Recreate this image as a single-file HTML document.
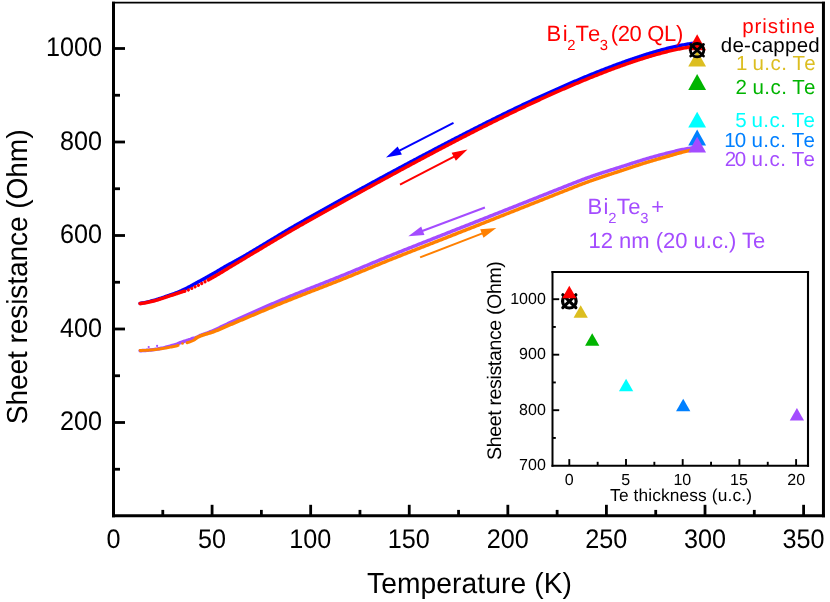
<!DOCTYPE html>
<html><head><meta charset="utf-8"><title>Sheet resistance vs temperature</title>
<style>
html,body{margin:0;padding:0;background:#fff;}
body{width:830px;height:602px;overflow:hidden;}
#w{width:830px;height:602px;will-change:transform;}
svg{display:block;}
svg text{font-family:"Liberation Sans",sans-serif;white-space:pre;text-rendering:geometricPrecision;}
</style></head><body>
<div id="w"><svg width="830" height="602" viewBox="0 0 830 602">
<rect width="830" height="602" fill="#fff"/>
<path d="M140.12,303.51 L141.24,303.31 L142.35,303.09 L143.47,302.86 L144.59,302.63 L145.71,302.38 L146.83,302.13 L147.95,301.87 L149.06,301.60 L150.18,301.33 L151.30,301.05 L152.42,300.76 L153.54,300.46 L154.66,300.15 L155.77,299.83 L156.89,299.49 L158.01,299.15 L159.13,298.79 L160.25,298.43 L161.36,298.06 L162.48,297.68 L163.60,297.30 L164.72,296.91 L165.84,296.52 L166.96,296.12 L168.07,295.74 L169.19,295.35 L170.31,294.97 L171.43,294.59 L172.55,294.19 L173.67,293.79 L174.78,293.37 L175.90,292.95 L177.02,292.51 L178.14,292.06 L179.26,291.61 L180.37,291.17 L181.49,290.70 L182.61,290.20 L183.73,289.68 L184.85,289.13 L185.97,288.56 L187.08,287.97 L188.20,287.38 L189.32,286.77 L190.44,286.17 L191.56,285.56 L192.68,284.95 L193.79,284.34 L194.91,283.73 L196.03,283.12 L197.15,282.51 L198.27,281.90 L199.38,281.29 L200.50,280.67 L201.62,280.06 L202.74,279.45 L203.86,278.84 L204.98,278.23 L206.09,277.61 L207.21,276.99 L208.33,276.37 L209.45,275.74 L210.57,275.11 L211.69,274.48 L212.80,273.84 L213.92,273.21 L215.04,272.57 L216.16,271.93 L217.28,271.27 L218.39,270.60 L219.51,269.93 L220.63,269.25 L221.75,268.59 L222.87,267.93 L223.99,267.28 L225.10,266.64 L226.22,266.01 L227.34,265.39 L228.46,264.77 L229.58,264.16 L230.70,263.56 L231.81,262.96 L232.93,262.35 L234.05,261.73 L235.17,261.10 L236.29,260.47 L237.40,259.84 L238.52,259.21 L239.64,258.58 L240.76,257.95 L241.88,257.31 L243.00,256.68 L244.11,256.04 L245.23,255.40 L246.35,254.75 L247.47,254.10 L248.59,253.45 L249.71,252.78 L250.82,252.12 L251.94,251.45 L253.06,250.78 L254.18,250.11 L255.30,249.44 L256.41,248.77 L257.53,248.10 L258.65,247.43 L259.77,246.76 L260.89,246.09 L262.01,245.42 L263.12,244.74 L264.24,244.07 L265.36,243.39 L266.48,242.72 L267.60,242.04 L268.72,241.37 L269.83,240.69 L270.95,240.01 L272.07,239.34 L273.19,238.66 L274.31,237.98 L275.42,237.31 L276.54,236.63 L277.66,235.96 L278.78,235.28 L279.90,234.61 L281.02,233.94 L282.13,233.27 L283.25,232.60 L284.37,231.93 L285.49,231.26 L286.61,230.60 L287.73,229.94 L288.84,229.28 L289.96,228.62 L291.08,227.96 L292.20,227.31 L293.32,226.66 L294.43,226.01 L295.55,225.36 L296.67,224.72 L297.79,224.08 L298.91,223.44 L300.03,222.80 L301.14,222.17 L302.26,221.54 L303.38,220.91 L304.50,220.28 L305.62,219.65 L306.74,219.01 L307.85,218.38 L308.97,217.75 L310.09,217.12 L311.21,216.49 L312.33,215.86 L313.44,215.23 L314.56,214.61 L315.68,213.98 L316.80,213.35 L317.92,212.72 L319.04,212.09 L320.15,211.47 L321.27,210.84 L322.39,210.21 L323.51,209.59 L324.63,208.96 L325.75,208.33 L326.86,207.71 L327.98,207.08 L329.10,206.46 L330.22,205.84 L331.34,205.21 L332.45,204.59 L333.57,203.96 L334.69,203.34 L335.81,202.72 L336.93,202.10 L338.05,201.47 L339.16,200.85 L340.28,200.23 L341.40,199.61 L342.52,198.99 L343.64,198.37 L344.76,197.75 L345.87,197.13 L346.99,196.51 L348.11,195.89 L349.23,195.28 L350.35,194.66 L351.46,194.04 L352.58,193.42 L353.70,192.81 L354.82,192.19 L355.94,191.57 L357.06,190.96 L358.17,190.34 L359.29,189.73 L360.41,189.11 L361.53,188.50 L362.65,187.88 L363.77,187.27 L364.88,186.66 L366.00,186.05 L367.12,185.43 L368.24,184.82 L369.36,184.21 L370.47,183.60 L371.59,182.99 L372.71,182.38 L373.83,181.77 L374.95,181.17 L376.07,180.56 L377.18,179.95 L378.30,179.34 L379.42,178.74 L380.54,178.13 L381.66,177.52 L382.78,176.92 L383.89,176.31 L385.01,175.71 L386.13,175.10 L387.25,174.50 L388.37,173.90 L389.48,173.29 L390.60,172.69 L391.72,172.09 L392.84,171.49 L393.96,170.89 L395.08,170.29 L396.19,169.69 L397.31,169.09 L398.43,168.49 L399.55,167.89 L400.67,167.29 L401.79,166.69 L402.90,166.09 L404.02,165.49 L405.14,164.90 L406.26,164.30 L407.38,163.70 L408.49,163.11 L409.61,162.51 L410.73,161.92 L411.85,161.32 L412.97,160.73 L414.09,160.13 L415.20,159.54 L416.32,158.95 L417.44,158.35 L418.56,157.76 L419.68,157.17 L420.80,156.58 L421.91,155.98 L423.03,155.39 L424.15,154.80 L425.27,154.21 L426.39,153.62 L427.51,153.03 L428.62,152.44 L429.74,151.86 L430.86,151.27 L431.98,150.68 L433.10,150.09 L434.21,149.50 L435.33,148.92 L436.45,148.33 L437.57,147.74 L438.69,147.16 L439.81,146.57 L440.92,145.99 L442.04,145.41 L443.16,144.82 L444.28,144.24 L445.40,143.65 L446.52,143.07 L447.63,142.49 L448.75,141.91 L449.87,141.33 L450.99,140.74 L452.11,140.16 L453.22,139.58 L454.34,139.00 L455.46,138.42 L456.58,137.85 L457.70,137.27 L458.82,136.69 L459.93,136.11 L461.05,135.53 L462.17,134.96 L463.29,134.38 L464.41,133.81 L465.53,133.23 L466.64,132.66 L467.76,132.08 L468.88,131.51 L470.00,130.94 L471.12,130.37 L472.23,129.80 L473.35,129.23 L474.47,128.66 L475.59,128.09 L476.71,127.52 L477.83,126.95 L478.94,126.39 L480.06,125.82 L481.18,125.26 L482.30,124.69 L483.42,124.13 L484.54,123.57 L485.65,123.00 L486.77,122.44 L487.89,121.88 L489.01,121.32 L490.13,120.76 L491.24,120.20 L492.36,119.65 L493.48,119.09 L494.60,118.54 L495.72,117.98 L496.84,117.43 L497.95,116.87 L499.07,116.32 L500.19,115.77 L501.31,115.22 L502.43,114.67 L503.55,114.12 L504.66,113.57 L505.78,113.03 L506.90,112.48 L508.02,111.94 L509.14,111.39 L510.25,110.85 L511.37,110.31 L512.49,109.77 L513.61,109.23 L514.73,108.69 L515.85,108.15 L516.96,107.61 L518.08,107.08 L519.20,106.54 L520.32,106.01 L521.44,105.47 L522.56,104.94 L523.67,104.41 L524.79,103.88 L525.91,103.35 L527.03,102.82 L528.15,102.30 L529.26,101.77 L530.38,101.25 L531.50,100.72 L532.62,100.20 L533.74,99.68 L534.86,99.16 L535.97,98.64 L537.09,98.12 L538.21,97.60 L539.33,97.09 L540.45,96.57 L541.57,96.06 L542.68,95.55 L543.80,95.04 L544.92,94.53 L546.04,94.02 L547.16,93.51 L548.27,93.00 L549.39,92.50 L550.51,91.99 L551.63,91.49 L552.75,90.99 L553.87,90.49 L554.98,89.99 L556.10,89.49 L557.22,88.99 L558.34,88.50 L559.46,88.00 L560.58,87.51 L561.69,87.02 L562.81,86.52 L563.93,86.03 L565.05,85.55 L566.17,85.06 L567.28,84.57 L568.40,84.09 L569.52,83.61 L570.64,83.12 L571.76,82.64 L572.88,82.16 L573.99,81.69 L575.11,81.21 L576.23,80.74 L577.35,80.26 L578.47,79.79 L579.59,79.32 L580.70,78.85 L581.82,78.38 L582.94,77.92 L584.06,77.45 L585.18,76.99 L586.29,76.52 L587.41,76.06 L588.53,75.60 L589.65,75.15 L590.77,74.69 L591.89,74.24 L593.00,73.78 L594.12,73.33 L595.24,72.88 L596.36,72.44 L597.48,71.99 L598.60,71.54 L599.71,71.10 L600.83,70.66 L601.95,70.22 L603.07,69.78 L604.19,69.35 L605.30,68.91 L606.42,68.48 L607.54,68.05 L608.66,67.62 L609.78,67.19 L610.90,66.77 L612.01,66.34 L613.13,65.92 L614.25,65.50 L615.37,65.08 L616.49,64.67 L617.61,64.26 L618.72,63.84 L619.84,63.44 L620.96,63.03 L622.08,62.62 L623.20,62.22 L624.31,61.82 L625.43,61.42 L626.55,61.02 L627.67,60.63 L628.79,60.23 L629.91,59.84 L631.02,59.46 L632.14,59.07 L633.26,58.69 L634.38,58.30 L635.50,57.93 L636.62,57.55 L637.73,57.18 L638.85,56.80 L639.97,56.44 L641.09,56.07 L642.21,55.71 L643.32,55.35 L644.44,54.99 L645.56,54.64 L646.68,54.29 L647.80,53.94 L648.92,53.59 L650.03,53.25 L651.15,52.91 L652.27,52.58 L653.39,52.25 L654.51,51.92 L655.63,51.59 L656.74,51.27 L657.86,50.95 L658.98,50.64 L660.10,50.33 L661.22,50.02 L662.33,49.72 L663.45,49.43 L664.57,49.13 L665.69,48.84 L666.81,48.56 L667.93,48.28 L669.04,48.00 L670.16,47.73 L671.28,47.46 L672.40,47.20 L673.52,46.94 L674.64,46.69 L675.75,46.44 L676.87,46.20 L677.99,45.96 L679.11,45.73 L680.23,45.51 L681.34,45.29 L682.46,45.07 L683.58,44.86 L684.70,44.66 L685.82,44.46 L686.94,44.27 L688.05,44.09 L689.17,43.91 L690.29,43.74 L691.41,43.57 L692.53,43.41 L693.65,43.26 L694.76,43.12 L695.88,42.98 L697.00,42.85" fill="none" stroke="#0000ff" stroke-width="3.5" stroke-linecap="round" stroke-linejoin="round"/>
<path d="M140.12,303.57 L141.24,303.44 L142.35,303.28 L143.47,303.12 L144.59,302.94 L145.71,302.74 L146.83,302.54 L147.95,302.32 L149.06,302.08 L150.18,301.83 L151.30,301.57 L152.42,301.30 L153.54,301.01 L154.66,300.71 L155.77,300.40 L156.89,300.07 L158.01,299.74 L159.13,299.39 L160.25,299.03 L161.36,298.67 L162.48,298.30 L163.60,297.92 L164.72,297.54 L165.84,297.16 L166.96,296.78 L168.07,296.41 L169.19,296.04 L170.31,295.68 L171.43,295.32 L172.55,294.96 L173.67,294.60 L174.78,294.24 L175.90,293.88 L177.02,293.51 L178.14,293.13 L179.26,292.75 L180.37,292.40 L181.49,292.05 L182.61,291.70 L183.73,291.35" fill="none" stroke="#ff0000" stroke-width="3.5" stroke-linecap="round" stroke-linejoin="round"/>
<path d="M184.85,291.19 L185.97,290.81 L187.08,290.41 L188.20,289.98 L189.32,289.51 L190.44,289.00 L191.56,288.48 L192.68,287.96 L193.79,287.42 L194.91,286.89 L196.03,286.35 L197.15,285.80 L198.27,285.25 L199.38,284.69 L200.50,284.13 L201.62,283.56 L202.74,282.99 L203.86,282.41 L204.98,281.83 L206.09,281.24" fill="none" stroke="#ff0000" stroke-width="3.3" stroke-dasharray="0.01 3.7" stroke-linecap="round" stroke-linejoin="round"/>
<path d="M208.33,279.84 L209.45,279.23 L210.57,278.62 L211.69,278.01 L212.80,277.39 L213.92,276.77 L215.04,276.14 L216.16,275.51 L217.28,274.86 L218.39,274.20 L219.51,273.53 L220.63,272.85 L221.75,272.17 L222.87,271.48 L223.99,270.78 L225.10,270.09 L226.22,269.40 L227.34,268.71 L228.46,268.02 L229.58,267.35 L230.70,266.68 L231.81,266.00 L232.93,265.33 L234.05,264.66 L235.17,263.99 L236.29,263.32 L237.40,262.65 L238.52,261.98 L239.64,261.31 L240.76,260.64 L241.88,259.97 L243.00,259.30 L244.11,258.63 L245.23,257.96 L246.35,257.29 L247.47,256.62 L248.59,255.95 L249.71,255.28 L250.82,254.62 L251.94,253.95 L253.06,253.28 L254.18,252.61 L255.30,251.95 L256.41,251.28 L257.53,250.62 L258.65,249.95 L259.77,249.28 L260.89,248.62 L262.01,247.95 L263.12,247.29 L264.24,246.62 L265.36,245.95 L266.48,245.29 L267.60,244.62 L268.72,243.95 L269.83,243.28 L270.95,242.61 L272.07,241.95 L273.19,241.28 L274.31,240.61 L275.42,239.94 L276.54,239.28 L277.66,238.61 L278.78,237.95 L279.90,237.28 L281.02,236.62 L282.13,235.96 L283.25,235.30 L284.37,234.64 L285.49,233.98 L286.61,233.33 L287.73,232.67 L288.84,232.02 L289.96,231.37 L291.08,230.72 L292.20,230.07 L293.32,229.43 L294.43,228.78 L295.55,228.14 L296.67,227.51 L297.79,226.87 L298.91,226.24 L300.03,225.60 L301.14,224.98 L302.26,224.35 L303.38,223.72 L304.50,223.09 L305.62,222.46 L306.74,221.83 L307.85,221.20 L308.97,220.58 L310.09,219.95 L311.21,219.32 L312.33,218.70 L313.44,218.07 L314.56,217.44 L315.68,216.82 L316.80,216.19 L317.92,215.57 L319.04,214.94 L320.15,214.32 L321.27,213.69 L322.39,213.07 L323.51,212.44 L324.63,211.82 L325.75,211.20 L326.86,210.57 L327.98,209.95 L329.10,209.33 L330.22,208.71 L331.34,208.08 L332.45,207.46 L333.57,206.84 L334.69,206.22 L335.81,205.60 L336.93,204.98 L338.05,204.36 L339.16,203.74 L340.28,203.12 L341.40,202.50 L342.52,201.88 L343.64,201.26 L344.76,200.64 L345.87,200.02 L346.99,199.41 L348.11,198.79 L349.23,198.17 L350.35,197.55 L351.46,196.94 L352.58,196.32 L353.70,195.70 L354.82,195.09 L355.94,194.47 L357.06,193.86 L358.17,193.24 L359.29,192.63 L360.41,192.01 L361.53,191.40 L362.65,190.78 L363.77,190.17 L364.88,189.56 L366.00,188.94 L367.12,188.33 L368.24,187.72 L369.36,187.10 L370.47,186.49 L371.59,185.88 L372.71,185.27 L373.83,184.66 L374.95,184.05 L376.07,183.44 L377.18,182.83 L378.30,182.22 L379.42,181.61 L380.54,181.00 L381.66,180.39 L382.78,179.78 L383.89,179.17 L385.01,178.56 L386.13,177.95 L387.25,177.35 L388.37,176.74 L389.48,176.13 L390.60,175.53 L391.72,174.92 L392.84,174.31 L393.96,173.71 L395.08,173.10 L396.19,172.50 L397.31,171.89 L398.43,171.29 L399.55,170.68 L400.67,170.08 L401.79,169.48 L402.90,168.87 L404.02,168.27 L405.14,167.67 L406.26,167.07 L407.38,166.47 L408.49,165.86 L409.61,165.26 L410.73,164.66 L411.85,164.06 L412.97,163.46 L414.09,162.86 L415.20,162.27 L416.32,161.67 L417.44,161.07 L418.56,160.47 L419.68,159.87 L420.80,159.28 L421.91,158.68 L423.03,158.09 L424.15,157.49 L425.27,156.90 L426.39,156.30 L427.51,155.71 L428.62,155.11 L429.74,154.52 L430.86,153.93 L431.98,153.34 L433.10,152.74 L434.21,152.15 L435.33,151.56 L436.45,150.97 L437.57,150.38 L438.69,149.79 L439.81,149.21 L440.92,148.62 L442.04,148.03 L443.16,147.44 L444.28,146.86 L445.40,146.27 L446.52,145.69 L447.63,145.10 L448.75,144.52 L449.87,143.93 L450.99,143.35 L452.11,142.77 L453.22,142.19 L454.34,141.61 L455.46,141.03 L456.58,140.45 L457.70,139.87 L458.82,139.29 L459.93,138.71 L461.05,138.13 L462.17,137.56 L463.29,136.98 L464.41,136.41 L465.53,135.83 L466.64,135.26 L467.76,134.69 L468.88,134.11 L470.00,133.54 L471.12,132.97 L472.23,132.40 L473.35,131.83 L474.47,131.26 L475.59,130.69 L476.71,130.13 L477.83,129.56 L478.94,129.00 L480.06,128.43 L481.18,127.87 L482.30,127.30 L483.42,126.74 L484.54,126.18 L485.65,125.62 L486.77,125.06 L487.89,124.50 L489.01,123.94 L490.13,123.38 L491.24,122.83 L492.36,122.27 L493.48,121.72 L494.60,121.16 L495.72,120.61 L496.84,120.06 L497.95,119.50 L499.07,118.95 L500.19,118.40 L501.31,117.86 L502.43,117.31 L503.55,116.76 L504.66,116.21 L505.78,115.67 L506.90,115.13 L508.02,114.58 L509.14,114.04 L510.25,113.50 L511.37,112.96 L512.49,112.42 L513.61,111.88 L514.73,111.34 L515.85,110.81 L516.96,110.27 L518.08,109.74 L519.20,109.20 L520.32,108.67 L521.44,108.14 L522.56,107.61 L523.67,107.08 L524.79,106.55 L525.91,106.03 L527.03,105.50 L528.15,104.98 L529.26,104.45 L530.38,103.93 L531.50,103.41 L532.62,102.89 L533.74,102.37 L534.86,101.85 L535.97,101.33 L537.09,100.82 L538.21,100.30 L539.33,99.79 L540.45,99.27 L541.57,98.76 L542.68,98.25 L543.80,97.74 L544.92,97.23 L546.04,96.73 L547.16,96.22 L548.27,95.72 L549.39,95.21 L550.51,94.71 L551.63,94.21 L552.75,93.71 L553.87,93.21 L554.98,92.71 L556.10,92.22 L557.22,91.72 L558.34,91.23 L559.46,90.74 L560.58,90.25 L561.69,89.76 L562.81,89.27 L563.93,88.78 L565.05,88.30 L566.17,87.81 L567.28,87.33 L568.40,86.85 L569.52,86.37 L570.64,85.89 L571.76,85.41 L572.88,84.93 L573.99,84.46 L575.11,83.98 L576.23,83.51 L577.35,83.04 L578.47,82.57 L579.59,82.10 L580.70,81.64 L581.82,81.17 L582.94,80.71 L584.06,80.25 L585.18,79.78 L586.29,79.33 L587.41,78.87 L588.53,78.41 L589.65,77.96 L590.77,77.50 L591.89,77.05 L593.00,76.60 L594.12,76.16 L595.24,75.71 L596.36,75.26 L597.48,74.82 L598.60,74.38 L599.71,73.94 L600.83,73.50 L601.95,73.06 L603.07,72.63 L604.19,72.20 L605.30,71.77 L606.42,71.34 L607.54,70.91 L608.66,70.48 L609.78,70.06 L610.90,69.64 L612.01,69.22 L613.13,68.80 L614.25,68.38 L615.37,67.97 L616.49,67.56 L617.61,67.15 L618.72,66.74 L619.84,66.33 L620.96,65.93 L622.08,65.53 L623.20,65.13 L624.31,64.73 L625.43,64.34 L626.55,63.95 L627.67,63.56 L628.79,63.17 L629.91,62.78 L631.02,62.40 L632.14,62.02 L633.26,61.64 L634.38,61.27 L635.50,60.89 L636.62,60.52 L637.73,60.16 L638.85,59.79 L639.97,59.43 L641.09,59.07 L642.21,58.71 L643.32,58.36 L644.44,58.01 L645.56,57.66 L646.68,57.32 L647.80,56.97 L648.92,56.64 L650.03,56.30 L651.15,55.97 L652.27,55.64 L653.39,55.31 L654.51,54.99 L655.63,54.67 L656.74,54.36 L657.86,54.05 L658.98,53.74 L660.10,53.44 L661.22,53.14 L662.33,52.84 L663.45,52.55 L664.57,52.26 L665.69,51.98 L666.81,51.70 L667.93,51.42 L669.04,51.15 L670.16,50.88 L671.28,50.62 L672.40,50.36 L673.52,50.11 L674.64,49.86 L675.75,49.62 L676.87,49.38 L677.99,49.15 L679.11,48.92 L680.23,48.69 L681.34,48.48 L682.46,48.26 L683.58,48.06 L684.70,47.86 L685.82,47.66 L686.94,47.47 L688.05,47.29 L689.17,47.11 L690.29,46.94 L691.41,46.77 L692.53,46.61 L693.65,46.46 L694.76,46.32 L695.88,46.18 L697.00,46.05" fill="none" stroke="#ff0000" stroke-width="3.5" stroke-linecap="round" stroke-linejoin="round"/>
<path d="M140.12,350.68 L141.24,350.65 L142.35,350.61 L143.47,350.56 L144.59,350.49 L145.71,350.42 L146.83,350.33 L147.95,350.24 L149.06,350.13 L150.18,350.02 L151.30,349.89 L152.42,349.76 L153.54,349.62 L154.66,349.47 L155.77,349.30 L156.89,349.13 L158.01,348.95 L159.13,348.76 L160.25,348.56 L161.36,348.34 L162.48,348.10 L163.60,347.85 L164.72,347.58 L165.84,347.30 L166.96,347.01 L168.07,346.72 L169.19,346.42 L170.31,346.11 L171.43,345.80 L172.55,345.48 L173.67,345.15 L174.78,344.81 L175.90,344.44 L177.02,344.04 L178.14,343.60 L179.26,343.15 L180.37,342.70 L181.49,342.27 L182.61,341.86 L183.73,341.49 L184.85,341.15 L185.97,340.80 L187.08,340.45 L188.20,340.09 L189.32,339.73 L190.44,339.36 L191.56,338.95 L192.68,338.48 L193.79,338.18 L194.91,338.20 L196.03,337.51 L197.15,337.04 L198.27,336.50 L199.38,335.97 L200.50,335.47 L201.62,335.01 L202.74,334.59 L203.86,334.20 L204.98,333.83 L206.09,333.45 L207.21,333.05 L208.33,332.63 L209.45,332.20 L210.57,331.74 L211.69,331.27 L212.80,330.79 L213.92,330.29 L215.04,329.78 L216.16,329.28 L217.28,328.77 L218.39,328.24 L219.51,327.72 L220.63,327.18 L221.75,326.65 L222.87,326.11 L223.99,325.57 L225.10,325.04 L226.22,324.51 L227.34,323.98 L228.46,323.46 L229.58,322.95 L230.70,322.45 L231.81,321.95 L232.93,321.45 L234.05,320.94 L235.17,320.44 L236.29,319.93 L237.40,319.43 L238.52,318.92 L239.64,318.42 L240.76,317.91 L241.88,317.41 L243.00,316.90 L244.11,316.40 L245.23,315.89 L246.35,315.39 L247.47,314.88 L248.59,314.38 L249.71,313.88 L250.82,313.37 L251.94,312.87 L253.06,312.37 L254.18,311.87 L255.30,311.37 L256.41,310.87 L257.53,310.37 L258.65,309.87 L259.77,309.37 L260.89,308.87 L262.01,308.38 L263.12,307.88 L264.24,307.39 L265.36,306.90 L266.48,306.41 L267.60,305.92 L268.72,305.43 L269.83,304.94 L270.95,304.46 L272.07,303.97 L273.19,303.49 L274.31,303.01 L275.42,302.53 L276.54,302.05 L277.66,301.57 L278.78,301.09 L279.90,300.62 L281.02,300.15 L282.13,299.68 L283.25,299.21 L284.37,298.74 L285.49,298.28 L286.61,297.81 L287.73,297.35 L288.84,296.89 L289.96,296.43 L291.08,295.97 L292.20,295.52 L293.32,295.06 L294.43,294.61 L295.55,294.16 L296.67,293.71 L297.79,293.25 L298.91,292.81 L300.03,292.36 L301.14,291.91 L302.26,291.46 L303.38,291.02 L304.50,290.57 L305.62,290.13 L306.74,289.68 L307.85,289.24 L308.97,288.80 L310.09,288.36 L311.21,287.91 L312.33,287.47 L313.44,287.03 L314.56,286.59 L315.68,286.15 L316.80,285.71 L317.92,285.27 L319.04,284.83 L320.15,284.39 L321.27,283.95 L322.39,283.51 L323.51,283.07 L324.63,282.62 L325.75,282.18 L326.86,281.74 L327.98,281.30 L329.10,280.85 L330.22,280.41 L331.34,279.97 L332.45,279.52 L333.57,279.08 L334.69,278.63 L335.81,278.18 L336.93,277.73 L338.05,277.28 L339.16,276.83 L340.28,276.38 L341.40,275.93 L342.52,275.47 L343.64,275.02 L344.76,274.56 L345.87,274.10 L346.99,273.64 L348.11,273.19 L349.23,272.73 L350.35,272.26 L351.46,271.80 L352.58,271.34 L353.70,270.88 L354.82,270.41 L355.94,269.95 L357.06,269.48 L358.17,269.02 L359.29,268.55 L360.41,268.09 L361.53,267.62 L362.65,267.15 L363.77,266.69 L364.88,266.22 L366.00,265.75 L367.12,265.29 L368.24,264.82 L369.36,264.35 L370.47,263.89 L371.59,263.42 L372.71,262.95 L373.83,262.49 L374.95,262.02 L376.07,261.56 L377.18,261.09 L378.30,260.63 L379.42,260.16 L380.54,259.70 L381.66,259.24 L382.78,258.77 L383.89,258.31 L385.01,257.85 L386.13,257.39 L387.25,256.93 L388.37,256.48 L389.48,256.02 L390.60,255.56 L391.72,255.11 L392.84,254.66 L393.96,254.20 L395.08,253.75 L396.19,253.30 L397.31,252.85 L398.43,252.41 L399.55,251.96 L400.67,251.52 L401.79,251.07 L402.90,250.63 L404.02,250.19 L405.14,249.74 L406.26,249.30 L407.38,248.86 L408.49,248.41 L409.61,247.97 L410.73,247.53 L411.85,247.08 L412.97,246.64 L414.09,246.20 L415.20,245.76 L416.32,245.31 L417.44,244.87 L418.56,244.43 L419.68,243.98 L420.80,243.54 L421.91,243.10 L423.03,242.66 L424.15,242.22 L425.27,241.77 L426.39,241.33 L427.51,240.89 L428.62,240.45 L429.74,240.01 L430.86,239.56 L431.98,239.12 L433.10,238.68 L434.21,238.24 L435.33,237.80 L436.45,237.36 L437.57,236.91 L438.69,236.47 L439.81,236.03 L440.92,235.59 L442.04,235.15 L443.16,234.71 L444.28,234.27 L445.40,233.83 L446.52,233.39 L447.63,232.94 L448.75,232.50 L449.87,232.06 L450.99,231.62 L452.11,231.18 L453.22,230.74 L454.34,230.30 L455.46,229.86 L456.58,229.42 L457.70,228.98 L458.82,228.54 L459.93,228.10 L461.05,227.66 L462.17,227.22 L463.29,226.78 L464.41,226.34 L465.53,225.90 L466.64,225.46 L467.76,225.02 L468.88,224.58 L470.00,224.14 L471.12,223.70 L472.23,223.26 L473.35,222.81 L474.47,222.37 L475.59,221.93 L476.71,221.49 L477.83,221.05 L478.94,220.61 L480.06,220.17 L481.18,219.73 L482.30,219.28 L483.42,218.84 L484.54,218.40 L485.65,217.96 L486.77,217.52 L487.89,217.08 L489.01,216.63 L490.13,216.19 L491.24,215.75 L492.36,215.31 L493.48,214.87 L494.60,214.42 L495.72,213.98 L496.84,213.54 L497.95,213.10 L499.07,212.65 L500.19,212.21 L501.31,211.77 L502.43,211.32 L503.55,210.88 L504.66,210.44 L505.78,210.00 L506.90,209.55 L508.02,209.11 L509.14,208.67 L510.25,208.22 L511.37,207.78 L512.49,207.34 L513.61,206.89 L514.73,206.45 L515.85,206.01 L516.96,205.56 L518.08,205.12 L519.20,204.67 L520.32,204.23 L521.44,203.79 L522.56,203.34 L523.67,202.90 L524.79,202.46 L525.91,202.01 L527.03,201.57 L528.15,201.12 L529.26,200.68 L530.38,200.24 L531.50,199.79 L532.62,199.35 L533.74,198.90 L534.86,198.46 L535.97,198.02 L537.09,197.57 L538.21,197.13 L539.33,196.69 L540.45,196.24 L541.57,195.80 L542.68,195.35 L543.80,194.91 L544.92,194.47 L546.04,194.02 L547.16,193.58 L548.27,193.14 L549.39,192.69 L550.51,192.25 L551.63,191.81 L552.75,191.36 L553.87,190.92 L554.98,190.48 L556.10,190.03 L557.22,189.59 L558.34,189.15 L559.46,188.71 L560.58,188.27 L561.69,187.82 L562.81,187.38 L563.93,186.94 L565.05,186.50 L566.17,186.06 L567.28,185.62 L568.40,185.18 L569.52,184.74 L570.64,184.30 L571.76,183.86 L572.88,183.42 L573.99,182.98 L575.11,182.54 L576.23,182.10 L577.35,181.66 L578.47,181.23 L579.59,180.79 L580.70,180.35 L581.82,179.92 L582.94,179.50 L584.06,179.08 L585.18,178.66 L586.29,178.25 L587.41,177.84 L588.53,177.44 L589.65,177.04 L590.77,176.65 L591.89,176.26 L593.00,175.87 L594.12,175.49 L595.24,175.11 L596.36,174.73 L597.48,174.36 L598.60,173.99 L599.71,173.62 L600.83,173.26 L601.95,172.89 L603.07,172.53 L604.19,172.17 L605.30,171.81 L606.42,171.46 L607.54,171.10 L608.66,170.75 L609.78,170.39 L610.90,170.04 L612.01,169.69 L613.13,169.34 L614.25,168.99 L615.37,168.64 L616.49,168.28 L617.61,167.93 L618.72,167.58 L619.84,167.23 L620.96,166.88 L622.08,166.52 L623.20,166.17 L624.31,165.81 L625.43,165.46 L626.55,165.10 L627.67,164.74 L628.79,164.38 L629.91,164.01 L631.02,163.65 L632.14,163.29 L633.26,162.93 L634.38,162.57 L635.50,162.21 L636.62,161.86 L637.73,161.50 L638.85,161.15 L639.97,160.80 L641.09,160.46 L642.21,160.11 L643.32,159.77 L644.44,159.43 L645.56,159.10 L646.68,158.76 L647.80,158.43 L648.92,158.10 L650.03,157.78 L651.15,157.45 L652.27,157.13 L653.39,156.82 L654.51,156.51 L655.63,156.20 L656.74,155.89 L657.86,155.59 L658.98,155.29 L660.10,154.99 L661.22,154.70 L662.33,154.41 L663.45,154.13 L664.57,153.85 L665.69,153.57 L666.81,153.28 L667.93,153.00 L669.04,152.72 L670.16,152.44 L671.28,152.16 L672.40,151.88 L673.52,151.61 L674.64,151.33 L675.75,151.07 L676.87,150.80 L677.99,150.55 L679.11,150.29 L680.23,150.05 L681.34,149.81 L682.46,149.58 L683.58,149.36 L684.70,149.14 L685.82,148.94 L686.94,148.74 L688.05,148.56 L689.17,148.39 L690.29,148.22 L691.41,148.07 L692.53,147.92 L693.65,147.78 L694.76,147.65 L695.88,147.53 L697.00,147.41" fill="none" stroke="#a44cff" stroke-width="3.5" stroke-linecap="round" stroke-linejoin="round"/>
<path d="M140.12,350.49 L141.24,350.48 L142.35,350.46 L143.47,350.42 L144.59,350.38 L145.71,350.33 L146.83,350.26 L147.95,350.19 L149.06,350.11 L150.18,350.02 L151.30,349.92 L152.42,349.82 L153.54,349.70 L154.66,349.58 L155.77,349.45 L156.89,349.32 L158.01,349.18 L159.13,349.03 L160.25,348.87 L161.36,348.71 L162.48,348.54 L163.60,348.36 L164.72,348.17 L165.84,347.98 L166.96,347.78 L168.07,347.59 L169.19,347.39 L170.31,347.19 L171.43,346.98 L172.55,346.77 L173.67,346.54 L174.78,346.29 L175.90,346.03 L177.02,345.74 L178.14,345.44" fill="none" stroke="#ff8000" stroke-width="2.9" stroke-linecap="round" stroke-linejoin="round"/>
<path d="M187.08,342.75 L188.20,342.39 L189.32,342.03 L190.44,341.66 L191.56,341.25 L192.68,340.78 L193.79,340.27 L194.91,339.57 L196.03,338.11" fill="none" stroke="#ff8000" stroke-width="2.9" stroke-linecap="round" stroke-linejoin="round"/>
<path d="M196.03,338.31 L197.15,337.54 L198.27,337.00 L199.38,336.48 L200.50,335.99 L201.62,335.55 L202.74,335.15 L203.86,334.78 L204.98,334.43 L206.09,334.09 L207.21,333.76 L208.33,333.43 L209.45,333.10 L210.57,332.76 L211.69,332.40 L212.80,332.02 L213.92,331.62 L215.04,331.19 L216.16,330.74 L217.28,330.28 L218.39,329.81 L219.51,329.34 L220.63,328.85 L221.75,328.36 L222.87,327.87 L223.99,327.37 L225.10,326.88 L226.22,326.39 L227.34,325.90 L228.46,325.42 L229.58,324.94 L230.70,324.47 L231.81,324.01 L232.93,323.54 L234.05,323.07 L235.17,322.60 L236.29,322.13 L237.40,321.66 L238.52,321.19 L239.64,320.71 L240.76,320.24 L241.88,319.77 L243.00,319.30 L244.11,318.82 L245.23,318.35 L246.35,317.88 L247.47,317.40 L248.59,316.93 L249.71,316.46 L250.82,315.98 L251.94,315.51 L253.06,315.04 L254.18,314.56 L255.30,314.09 L256.41,313.62 L257.53,313.15 L258.65,312.68 L259.77,312.20 L260.89,311.73 L262.01,311.26 L263.12,310.79 L264.24,310.32 L265.36,309.85 L266.48,309.39 L267.60,308.92 L268.72,308.45 L269.83,307.98 L270.95,307.52 L272.07,307.05 L273.19,306.59 L274.31,306.12 L275.42,305.66 L276.54,305.20 L277.66,304.74 L278.78,304.28 L279.90,303.82 L281.02,303.36 L282.13,302.90 L283.25,302.45 L284.37,302.00 L285.49,301.54 L286.61,301.09 L287.73,300.64 L288.84,300.19 L289.96,299.75 L291.08,299.30 L292.20,298.86 L293.32,298.41 L294.43,297.97 L295.55,297.53 L296.67,297.09 L297.79,296.65 L298.91,296.21 L300.03,295.77 L301.14,295.34 L302.26,294.90 L303.38,294.46 L304.50,294.03 L305.62,293.59 L306.74,293.16 L307.85,292.72 L308.97,292.29 L310.09,291.86 L311.21,291.42 L312.33,290.99 L313.44,290.56 L314.56,290.13 L315.68,289.69 L316.80,289.26 L317.92,288.83 L319.04,288.40 L320.15,287.96 L321.27,287.53 L322.39,287.10 L323.51,286.66 L324.63,286.23 L325.75,285.80 L326.86,285.36 L327.98,284.93 L329.10,284.49 L330.22,284.05 L331.34,283.61 L332.45,283.18 L333.57,282.74 L334.69,282.30 L335.81,281.86 L336.93,281.41 L338.05,280.97 L339.16,280.53 L340.28,280.08 L341.40,279.64 L342.52,279.19 L343.64,278.74 L344.76,278.29 L345.87,277.84 L346.99,277.39 L348.11,276.93 L349.23,276.48 L350.35,276.02 L351.46,275.57 L352.58,275.11 L353.70,274.66 L354.82,274.20 L355.94,273.74 L357.06,273.28 L358.17,272.83 L359.29,272.37 L360.41,271.91 L361.53,271.45 L362.65,270.99 L363.77,270.53 L364.88,270.07 L366.00,269.61 L367.12,269.15 L368.24,268.68 L369.36,268.22 L370.47,267.76 L371.59,267.30 L372.71,266.84 L373.83,266.38 L374.95,265.92 L376.07,265.47 L377.18,265.01 L378.30,264.55 L379.42,264.09 L380.54,263.63 L381.66,263.18 L382.78,262.72 L383.89,262.27 L385.01,261.81 L386.13,261.36 L387.25,260.91 L388.37,260.45 L389.48,260.00 L390.60,259.55 L391.72,259.10 L392.84,258.66 L393.96,258.21 L395.08,257.76 L396.19,257.32 L397.31,256.88 L398.43,256.44 L399.55,256.00 L400.67,255.56 L401.79,255.12 L402.90,254.68 L404.02,254.24 L405.14,253.80 L406.26,253.37 L407.38,252.93 L408.49,252.49 L409.61,252.05 L410.73,251.61 L411.85,251.17 L412.97,250.74 L414.09,250.30 L415.20,249.86 L416.32,249.42 L417.44,248.98 L418.56,248.54 L419.68,248.11 L420.80,247.67 L421.91,247.23 L423.03,246.79 L424.15,246.35 L425.27,245.91 L426.39,245.47 L427.51,245.04 L428.62,244.60 L429.74,244.16 L430.86,243.72 L431.98,243.28 L433.10,242.84 L434.21,242.40 L435.33,241.97 L436.45,241.53 L437.57,241.09 L438.69,240.65 L439.81,240.21 L440.92,239.77 L442.04,239.33 L443.16,238.89 L444.28,238.45 L445.40,238.01 L446.52,237.58 L447.63,237.14 L448.75,236.70 L449.87,236.26 L450.99,235.82 L452.11,235.38 L453.22,234.94 L454.34,234.50 L455.46,234.06 L456.58,233.62 L457.70,233.18 L458.82,232.74 L459.93,232.30 L461.05,231.86 L462.17,231.42 L463.29,230.98 L464.41,230.54 L465.53,230.10 L466.64,229.66 L467.76,229.22 L468.88,228.78 L470.00,228.34 L471.12,227.90 L472.23,227.46 L473.35,227.01 L474.47,226.57 L475.59,226.13 L476.71,225.69 L477.83,225.25 L478.94,224.81 L480.06,224.37 L481.18,223.93 L482.30,223.48 L483.42,223.04 L484.54,222.60 L485.65,222.16 L486.77,221.72 L487.89,221.28 L489.01,220.83 L490.13,220.39 L491.24,219.95 L492.36,219.51 L493.48,219.07 L494.60,218.62 L495.72,218.18 L496.84,217.74 L497.95,217.30 L499.07,216.85 L500.19,216.41 L501.31,215.97 L502.43,215.52 L503.55,215.08 L504.66,214.64 L505.78,214.20 L506.90,213.75 L508.02,213.31 L509.14,212.87 L510.25,212.42 L511.37,211.98 L512.49,211.54 L513.61,211.09 L514.73,210.65 L515.85,210.21 L516.96,209.76 L518.08,209.32 L519.20,208.87 L520.32,208.43 L521.44,207.99 L522.56,207.54 L523.67,207.10 L524.79,206.66 L525.91,206.21 L527.03,205.77 L528.15,205.32 L529.26,204.88 L530.38,204.44 L531.50,203.99 L532.62,203.55 L533.74,203.10 L534.86,202.66 L535.97,202.22 L537.09,201.77 L538.21,201.33 L539.33,200.89 L540.45,200.44 L541.57,200.00 L542.68,199.55 L543.80,199.11 L544.92,198.67 L546.04,198.22 L547.16,197.78 L548.27,197.34 L549.39,196.89 L550.51,196.45 L551.63,196.01 L552.75,195.56 L553.87,195.12 L554.98,194.68 L556.10,194.23 L557.22,193.79 L558.34,193.35 L559.46,192.91 L560.58,192.47 L561.69,192.02 L562.81,191.58 L563.93,191.14 L565.05,190.70 L566.17,190.26 L567.28,189.82 L568.40,189.38 L569.52,188.94 L570.64,188.50 L571.76,188.06 L572.88,187.62 L573.99,187.18 L575.11,186.74 L576.23,186.30 L577.35,185.86 L578.47,185.43 L579.59,184.99 L580.70,184.55 L581.82,184.12 L582.94,183.69 L584.06,183.27 L585.18,182.85 L586.29,182.44 L587.41,182.03 L588.53,181.62 L589.65,181.22 L590.77,180.82 L591.89,180.42 L593.00,180.03 L594.12,179.64 L595.24,179.25 L596.36,178.87 L597.48,178.49 L598.60,178.11 L599.71,177.73 L600.83,177.35 L601.95,176.98 L603.07,176.61 L604.19,176.24 L605.30,175.87 L606.42,175.50 L607.54,175.14 L608.66,174.77 L609.78,174.41 L610.90,174.04 L612.01,173.68 L613.13,173.31 L614.25,172.95 L615.37,172.59 L616.49,172.23 L617.61,171.86 L618.72,171.50 L619.84,171.14 L620.96,170.77 L622.08,170.41 L623.20,170.04 L624.31,169.67 L625.43,169.30 L626.55,168.93 L627.67,168.56 L628.79,168.19 L629.91,167.82 L631.02,167.44 L632.14,167.07 L633.26,166.70 L634.38,166.33 L635.50,165.96 L636.62,165.60 L637.73,165.23 L638.85,164.87 L639.97,164.51 L641.09,164.16 L642.21,163.80 L643.32,163.45 L644.44,163.10 L645.56,162.75 L646.68,162.41 L647.80,162.06 L648.92,161.72 L650.03,161.39 L651.15,161.05 L652.27,160.72 L653.39,160.39 L654.51,160.06 L655.63,159.73 L656.74,159.41 L657.86,159.09 L658.98,158.77 L660.10,158.46 L661.22,158.15 L662.33,157.84 L663.45,157.54 L664.57,157.24 L665.69,156.93 L666.81,156.61 L667.93,156.29 L669.04,155.97 L670.16,155.65 L671.28,155.32 L672.40,154.99 L673.52,154.66 L674.64,154.33 L675.75,154.01 L676.87,153.68 L677.99,153.37 L679.11,153.05 L680.23,152.75 L681.34,152.45 L682.46,152.16 L683.58,151.87 L684.70,151.60 L685.82,151.34 L686.94,151.09 L688.05,150.86 L689.17,150.63 L690.29,150.42 L691.41,150.21 L692.53,150.02 L693.65,149.83 L694.76,149.65 L695.88,149.48 L697.00,149.31" fill="none" stroke="#ff8000" stroke-width="3.5" stroke-linecap="round" stroke-linejoin="round"/>
<circle cx="148.7" cy="347.0" r="1.1" fill="#a44cff"/>
<circle cx="157.1" cy="345.9" r="1.1" fill="#a44cff"/>
<circle cx="182.5" cy="343.5" r="1.35" fill="#ff8000"/>
<line x1="453.50" y1="122.90" x2="398.01" y2="151.43" stroke="#0000ff" stroke-width="2.0"/>
<polygon points="386.00,157.60 397.68,146.42 401.89,154.60" fill="#0000ff"/>
<line x1="400.00" y1="184.60" x2="455.52" y2="155.81" stroke="#ff0000" stroke-width="2.0"/>
<polygon points="467.50,149.60 455.86,160.82 451.62,152.65" fill="#ff0000"/>
<line x1="484.90" y1="207.50" x2="420.94" y2="231.46" stroke="#a44cff" stroke-width="2.0"/>
<polygon points="408.30,236.20 421.20,226.45 424.43,235.07" fill="#a44cff"/>
<line x1="420.10" y1="257.40" x2="483.70" y2="232.86" stroke="#ff8000" stroke-width="2.0"/>
<polygon points="496.30,228.00 483.49,237.87 480.18,229.29" fill="#ff8000"/>
<polygon points="697.15,34.35 706.05,50.25 688.25,50.25" fill="#ff0000"/>
<polygon points="697.15,50.85 706.05,66.45 688.25,66.45" fill="#dcbe20"/>
<g stroke="#000" stroke-width="2.8" fill="none" stroke-linecap="round"><circle cx="697.1" cy="50.2" r="6.7"/><line x1="690.7" y1="44.400000000000006" x2="703.5" y2="56.0"/><line x1="690.7" y1="56.0" x2="703.5" y2="44.400000000000006"/></g>
<polygon points="697.15,74.05 706.05,89.95 688.25,89.95" fill="#00b400"/>
<polygon points="697.15,111.65 706.05,127.55 688.25,127.55" fill="#00ffff"/>
<polygon points="697.15,129.55 706.05,145.45 688.25,145.45" fill="#0080ff"/>
<polygon points="697.15,136.65 706.05,152.55 688.25,152.55" fill="#a44cff"/>
<g stroke="#000" fill="none" stroke-linecap="butt">
<line x1="113.5" y1="1.85" x2="113.5" y2="517.3" stroke-width="3"/>
<line x1="112" y1="515.8" x2="825" y2="515.8" stroke-width="3"/>
<line x1="823.45" y1="1.85" x2="823.45" y2="517.3" stroke-width="3"/>
<line x1="112" y1="2.7" x2="824.95" y2="2.7" stroke-width="1.7"/>
<line x1="114" y1="469.25" x2="120.0" y2="469.25" stroke-width="2.8"/>
<line x1="114" y1="422.50" x2="125.0" y2="422.50" stroke-width="2.8"/>
<line x1="114" y1="375.75" x2="120.0" y2="375.75" stroke-width="2.8"/>
<line x1="114" y1="329.00" x2="125.0" y2="329.00" stroke-width="2.8"/>
<line x1="114" y1="282.25" x2="120.0" y2="282.25" stroke-width="2.8"/>
<line x1="114" y1="235.50" x2="125.0" y2="235.50" stroke-width="2.8"/>
<line x1="114" y1="188.75" x2="120.0" y2="188.75" stroke-width="2.8"/>
<line x1="114" y1="142.00" x2="125.0" y2="142.00" stroke-width="2.8"/>
<line x1="114" y1="95.25" x2="120.0" y2="95.25" stroke-width="2.8"/>
<line x1="114" y1="48.50" x2="125.0" y2="48.50" stroke-width="2.8"/>
<line x1="162.79" y1="515" x2="162.79" y2="509.9" stroke-width="2.8" stroke-linecap="butt"/>
<line x1="212.08" y1="515" x2="212.08" y2="504.8" stroke-width="2.8" stroke-linecap="butt"/>
<line x1="261.38" y1="515" x2="261.38" y2="509.9" stroke-width="2.8" stroke-linecap="butt"/>
<line x1="310.67" y1="515" x2="310.67" y2="504.8" stroke-width="2.8" stroke-linecap="butt"/>
<line x1="359.96" y1="515" x2="359.96" y2="509.9" stroke-width="2.8" stroke-linecap="butt"/>
<line x1="409.25" y1="515" x2="409.25" y2="504.8" stroke-width="2.8" stroke-linecap="butt"/>
<line x1="458.55" y1="515" x2="458.55" y2="509.9" stroke-width="2.8" stroke-linecap="butt"/>
<line x1="507.84" y1="515" x2="507.84" y2="504.8" stroke-width="2.8" stroke-linecap="butt"/>
<line x1="557.13" y1="515" x2="557.13" y2="509.9" stroke-width="2.8" stroke-linecap="butt"/>
<line x1="606.42" y1="515" x2="606.42" y2="504.8" stroke-width="2.8" stroke-linecap="butt"/>
<line x1="655.72" y1="515" x2="655.72" y2="509.9" stroke-width="2.8" stroke-linecap="butt"/>
<line x1="705.01" y1="515" x2="705.01" y2="504.8" stroke-width="2.8" stroke-linecap="butt"/>
<line x1="754.30" y1="515" x2="754.30" y2="509.9" stroke-width="2.8" stroke-linecap="butt"/>
<line x1="803.60" y1="515" x2="803.60" y2="504.8" stroke-width="2.8" stroke-linecap="butt"/>
</g>
<text transform="translate(59.92,430.00) scale(1,1.065)" font-size="25.2" fill="#000" letter-spacing="0.000" >200</text>
<text transform="translate(59.92,336.50) scale(1,1.065)" font-size="25.2" fill="#000" letter-spacing="0.000" >400</text>
<text transform="translate(59.92,243.00) scale(1,1.065)" font-size="25.2" fill="#000" letter-spacing="0.000" >600</text>
<text transform="translate(59.92,149.50) scale(1,1.065)" font-size="25.2" fill="#000" letter-spacing="0.000" >800</text>
<text transform="translate(45.91,56.00) scale(1,1.065)" font-size="25.2" fill="#000" letter-spacing="0.000" >1000</text>
<text transform="translate(106.48,547.60) scale(1,1.065)" font-size="25.2" fill="#000" letter-spacing="0.000" >0</text>
<text transform="translate(198.05,547.60) scale(1,1.065)" font-size="25.2" fill="#000" letter-spacing="0.000" >50</text>
<text transform="translate(289.17,547.60) scale(1,1.065)" font-size="25.2" fill="#000" letter-spacing="0.000" >100</text>
<text transform="translate(387.76,547.60) scale(1,1.065)" font-size="25.2" fill="#000" letter-spacing="0.000" >150</text>
<text transform="translate(486.67,547.60) scale(1,1.065)" font-size="25.2" fill="#000" letter-spacing="0.000" >200</text>
<text transform="translate(585.26,547.60) scale(1,1.065)" font-size="25.2" fill="#000" letter-spacing="0.000" >250</text>
<text transform="translate(683.99,547.60) scale(1,1.065)" font-size="25.2" fill="#000" letter-spacing="0.000" >300</text>
<text transform="translate(782.58,547.60) scale(1,1.065)" font-size="25.2" fill="#000" letter-spacing="0.000" >350</text>
<text transform="translate(366.98,592.80) scale(1,1.025)" font-size="28.2" fill="#000" letter-spacing="0.095" >Temperature (K)</text>
<text transform="translate(27.2,424.27) rotate(-90) scale(1,1.025)" x="0" y="0" font-size="28.2" letter-spacing="-0.132" fill="#000">Sheet resistance (Ohm)</text>
<text x="546.40" y="40.90" font-size="22" fill="#ff0000" letter-spacing="1.620" >Bi</text>
<text x="567.26" y="49.90" font-size="14.8" fill="#ff0000" letter-spacing="0.000" >2</text>
<text x="575.42" y="40.90" font-size="22" fill="#ff0000" letter-spacing="1.520" >Te</text>
<text x="599.74" y="49.90" font-size="14.8" fill="#ff0000" letter-spacing="0.000" >3</text>
<text x="610.74" y="40.90" font-size="22" fill="#ff0000" letter-spacing="-0.342" >(20 QL)</text>
<text x="587.40" y="214.30" font-size="22" fill="#a44cff" letter-spacing="1.520" >Bi</text>
<text x="608.16" y="223.20" font-size="14.8" fill="#a44cff" letter-spacing="0.000" >2</text>
<text x="616.82" y="214.30" font-size="22" fill="#a44cff" letter-spacing="0.420" >Te</text>
<text x="640.34" y="223.20" font-size="14.8" fill="#a44cff" letter-spacing="0.000" >3</text>
<text x="651.24" y="214.30" font-size="22" fill="#a44cff" letter-spacing="0.000" >+</text>
<text x="588.43" y="248.30" font-size="22" fill="#a44cff" letter-spacing="-0.004" >12 nm (20 u.c.) Te</text>
<text x="742.19" y="33.30" font-size="20.5" fill="#ff0000" letter-spacing="0.960" >pristine</text>
<text x="720.74" y="52.10" font-size="20.5" fill="#000" letter-spacing="0.261" >de-capped</text>
<text x="735.97" y="70.20" font-size="20.5" fill="#dcbe20">1</text>
<text x="752.49" y="70.20" font-size="20.5" fill="#dcbe20" letter-spacing="0.477" >u.c.</text>
<text x="792.55" y="70.20" font-size="20.5" fill="#dcbe20" letter-spacing="1.505" >Te</text>
<text x="735.53" y="93.70" font-size="20.5" fill="#00b400">2</text>
<text x="752.49" y="93.70" font-size="20.5" fill="#00b400" letter-spacing="0.477" >u.c.</text>
<text x="792.15" y="93.70" font-size="20.5" fill="#00b400" letter-spacing="1.505" >Te</text>
<text x="735.34" y="127.40" font-size="20.5" fill="#00ffff">5</text>
<text x="751.49" y="127.40" font-size="20.5" fill="#00ffff" letter-spacing="0.477" >u.c.</text>
<text x="791.85" y="127.40" font-size="20.5" fill="#00ffff" letter-spacing="1.505" >Te</text>
<text x="724.37" y="147.40" font-size="20.5" fill="#0080ff" letter-spacing="-0.983" >10</text>
<text x="751.49" y="147.40" font-size="20.5" fill="#0080ff" letter-spacing="0.477" >u.c.</text>
<text x="791.85" y="147.40" font-size="20.5" fill="#0080ff" letter-spacing="1.505" >Te</text>
<text x="724.77" y="166.00" font-size="20.5" fill="#a44cff" letter-spacing="-1.392" >20</text>
<text x="751.49" y="166.00" font-size="20.5" fill="#a44cff" letter-spacing="0.477" >u.c.</text>
<text x="791.85" y="166.00" font-size="20.5" fill="#a44cff" letter-spacing="1.505" >Te</text>
<g stroke="#000" fill="none">
<line x1="552.5" y1="271.0" x2="552.5" y2="466.8" stroke-width="2"/>
<line x1="551.5" y1="465.8" x2="809.05" y2="465.8" stroke-width="2"/>
<line x1="808.0" y1="271.0" x2="808.0" y2="466.8" stroke-width="2.1"/>
<line x1="551.5" y1="272.0" x2="809.05" y2="272.0" stroke-width="2"/>
<line x1="552.5" y1="437.95" x2="555.8" y2="437.95" stroke-width="1.9"/>
<line x1="552.5" y1="410.20" x2="559.2" y2="410.20" stroke-width="1.9"/>
<line x1="552.5" y1="382.45" x2="555.8" y2="382.45" stroke-width="1.9"/>
<line x1="552.5" y1="354.70" x2="559.2" y2="354.70" stroke-width="1.9"/>
<line x1="552.5" y1="326.95" x2="555.8" y2="326.95" stroke-width="1.9"/>
<line x1="552.5" y1="299.20" x2="559.2" y2="299.20" stroke-width="1.9"/>
<line x1="569.30" y1="465.8" x2="569.30" y2="459.1" stroke-width="1.9"/>
<line x1="597.65" y1="465.8" x2="597.65" y2="461.8" stroke-width="1.9"/>
<line x1="626.00" y1="465.8" x2="626.00" y2="459.1" stroke-width="1.9"/>
<line x1="654.35" y1="465.8" x2="654.35" y2="461.8" stroke-width="1.9"/>
<line x1="682.70" y1="465.8" x2="682.70" y2="459.1" stroke-width="1.9"/>
<line x1="711.05" y1="465.8" x2="711.05" y2="461.8" stroke-width="1.9"/>
<line x1="739.40" y1="465.8" x2="739.40" y2="459.1" stroke-width="1.9"/>
<line x1="767.75" y1="465.8" x2="767.75" y2="461.8" stroke-width="1.9"/>
<line x1="796.10" y1="465.8" x2="796.10" y2="459.1" stroke-width="1.9"/>
</g>
<text x="519.12" y="470.00" font-size="16.0" fill="#000" letter-spacing="0.000" >700</text>
<text x="519.12" y="414.50" font-size="16.0" fill="#000" letter-spacing="0.000" >800</text>
<text x="519.12" y="359.00" font-size="16.0" fill="#000" letter-spacing="0.000" >900</text>
<text x="510.22" y="303.50" font-size="16.0" fill="#000" letter-spacing="0.000" >1000</text>
<text x="564.64" y="484.65" font-size="16.0" fill="#000">0</text>
<text x="621.36" y="484.65" font-size="16.0" fill="#000">5</text>
<text x="673.39" y="484.65" font-size="16.0" fill="#000">10</text>
<text x="730.11" y="484.65" font-size="16.0" fill="#000">15</text>
<text x="787.26" y="484.65" font-size="16.0" fill="#000">20</text>
<text x="610.12" y="501.20" font-size="17.3" fill="#000" letter-spacing="0.142" >Te thickness (u.c.)</text>
<text transform="translate(501.1,459.88) rotate(-90)" x="0" y="0" font-size="19.6" letter-spacing="-0.389" fill="#000">Sheet resistance (Ohm)</text>
<g stroke="#000" stroke-width="3.2" fill="none" stroke-linecap="round"><circle cx="569.35" cy="301.2" r="6.8"/><line x1="562.85" y1="294.8" x2="575.85" y2="307.59999999999997"/><line x1="562.85" y1="307.59999999999997" x2="575.85" y2="294.8"/></g>
<polygon points="569.30,285.85 576.45,298.35 562.15,298.35" fill="#ff0000"/>
<polygon points="580.70,305.25 587.85,317.75 573.55,317.75" fill="#dcbe20"/>
<polygon points="592.20,333.15 599.35,345.65 585.05,345.65" fill="#00b400"/>
<polygon points="626.10,378.65 633.25,391.15 618.95,391.15" fill="#00ffff"/>
<polygon points="683.20,398.85 690.35,411.35 676.05,411.35" fill="#0080ff"/>
<polygon points="796.90,407.95 804.05,420.45 789.75,420.45" fill="#a44cff"/>
</svg></div>
</body></html>
